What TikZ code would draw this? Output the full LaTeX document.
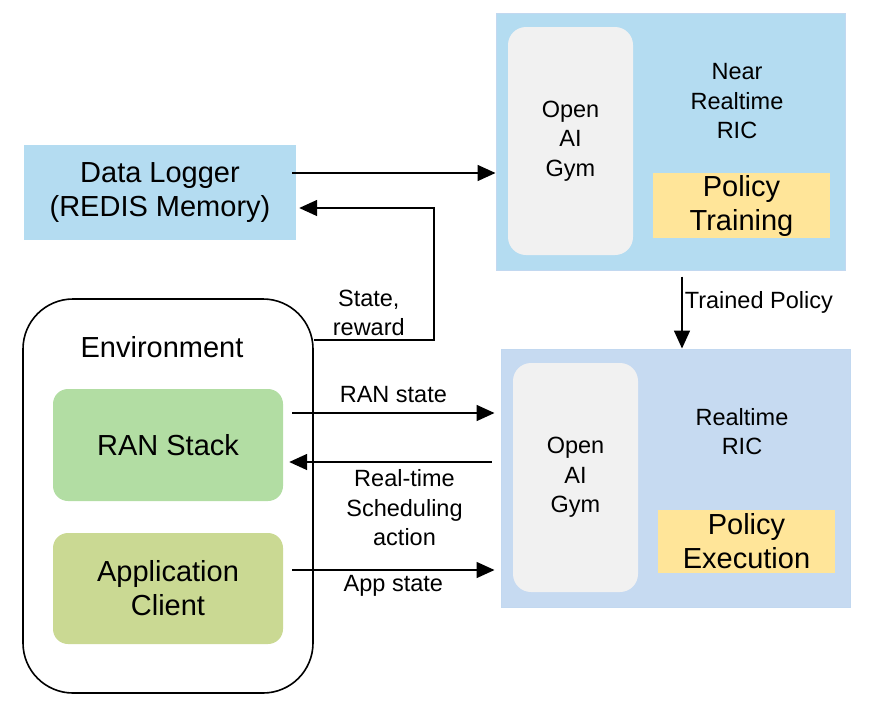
\documentclass[tikz,border=0pt]{standalone}
\usepackage{fontspec}
\setmainfont{Liberation Sans}
\usepackage{xcolor}
\usepackage{tikz}
\usetikzlibrary{arrows.meta,calc}
\definecolor{loggerblue}{HTML}{B4DCF1}
\definecolor{nearblue}{HTML}{B4DCF1}
\definecolor{nearedge}{HTML}{C2D8F0}
\definecolor{rtblue}{HTML}{C6DAF1}
\definecolor{gymgray}{HTML}{F1F1F1}
\definecolor{policyyellow}{HTML}{FFE599}
\definecolor{ranstackgreen}{HTML}{B2DDA3}
\definecolor{appclientgreen}{HTML}{CAD993}
\newcommand{\boxfont}{\fontsize{29}{34}\selectfont}
\newcommand{\notefont}{\fontsize{23.5}{29.5}\selectfont}
\tikzset{
	box/.style={
			draw=none, inner sep=0pt, align=center, font=\boxfont
		},
	gym/.style={
			box, fill=gymgray, rounded corners=18pt, minimum width=125pt, font=\notefont
		},
	policy/.style={
			box, fill=policyyellow, minimum width=177pt
		},
	envpart/.style={
			box, rounded corners=15pt, minimum width=230pt
		},
	flow/.style={
			-{Triangle[length=18pt,width=16pt]}, line width=1.6pt, black
		},
	arrowtext/.style={
			font=\notefont, align=center, inner sep=2pt
		}
}

\begin{document}
\begin{tikzpicture}[x=1pt, y=-1pt]
			\useasboundingbox (0, 0) rectangle (883, 710);

			\node[box, fill=loggerblue, minimum width=272pt, minimum height=95pt] (logger) at (160, 192.5) {Data Logger\\(REDIS Memory)};

			\node[box, fill=nearblue, draw=nearedge, line width=1pt, minimum width=349pt, minimum height=257pt] (nearric) at (670.5, 141.5) {};
			\node[gym, minimum height=228pt] (neargym) at (570.5, 141) {Open\\AI\\Gym};
			\node[box, font=\notefont] (neartitle) at (737, 101.5) {Near\\Realtime\\RIC};
			\node[policy, minimum height=65pt] (training) at (741.5, 205.5) {Policy\\Training};

			\node[box, fill=rtblue, draw=nearedge, line width=1pt, minimum width=349pt, minimum height=258pt] (rtric) at (675.5, 478) {};
			\node[gym, minimum height=229pt] (rtgym) at (575.5, 477.5) {Open\\AI\\Gym};
			\node[box, font=\notefont] (rttitle) at (742, 431.5) {Realtime\\RIC};
			\node[policy, minimum height=63pt] (execution) at (746.5, 541.5) {Policy\\Execution};

			\node[box, draw=black, line width=1.6pt, rounded corners=50pt, minimum width=290pt, minimum height=394pt] (env) at (168, 496) {};
			\node[box] (envtitle) at (162, 347) {Environment};
			\node[envpart, fill=ranstackgreen, minimum height=112pt] (ran) at (168, 445) {RAN Stack};
			\node[envpart, fill=appclientgreen, minimum height=111pt] (app) at (168, 588.5) {Application\\Client};

			\draw[flow]	([xshift=-4pt, yshift=19.5pt]logger.east) coordinate (a) to (a -| nearric.west);
			\draw[flow]	([yshift=156pt]env.east) to node[arrowtext, midway, above, xshift=-5pt, yshift=1pt]{State,\\reward} ++(120, 0) |- ([xshift=3pt, yshift=-15.5pt]logger.east);

			\draw[flow]	([xshift=11.5pt, yshift=-6pt]nearric.south) coordinate (b) to node[arrowtext, pos=0.36, right]{Trained Policy} (b |- rtric.north);

			\draw[flow]	([xshift=9pt, yshift=32pt]ran.east) coordinate (c) to node[arrowtext, midway, above, yshift=7pt]{RAN state} ($(c -| rtric.west)+(-6, 0)$);
			\coordinate (d) at ([xshift=6pt, yshift=-17pt]ran.east);
			\draw[flow]	($(d -| rtric.west)+(-9, 0)$) to node[arrowtext, pos=0.43, below, yshift=-5pt]{Real-time\\Scheduling\\action} (d);
			\draw[flow]	([xshift=9pt, yshift=18.5pt]app.east) coordinate (e) to node[arrowtext, midway, below, inner sep=1pt, yshift=-4pt]{App state} ($(e -| rtric.west)+(-6, 0)$);
		\end{tikzpicture}
\end{document}
